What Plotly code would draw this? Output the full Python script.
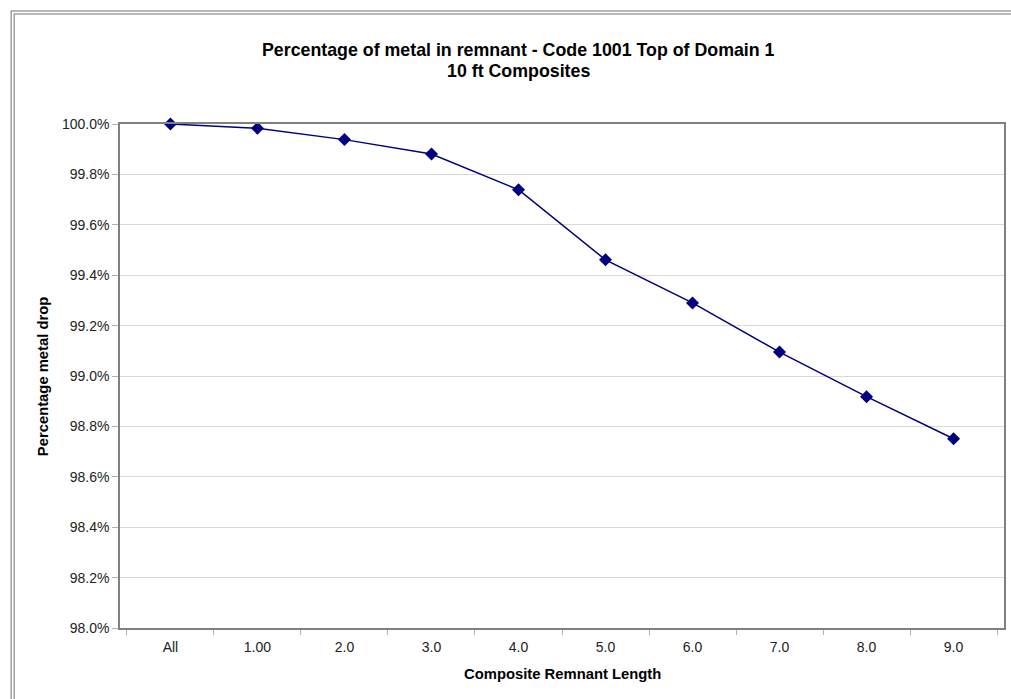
import plotly.graph_objects as go

categories = ["All", "1.00", "2.0", "3.0", "4.0", "5.0", "6.0", "7.0", "8.0", "9.0"]
values = [100.0, 99.983, 99.938, 99.881, 99.739, 99.461, 99.290, 99.095, 98.918, 98.751]
y_ticks = [98.0, 98.2, 98.4, 98.6, 98.8, 99.0, 99.2, 99.4, 99.6, 99.8, 100.0]
y_ticktext = [f"{v:.1f}%" for v in y_ticks]
title_lines = ["Percentage of metal in remnant - Code 1001 Top of Domain 1", "10 ft Composites"]

W, H = 1011, 699
L, R, T, B = 120, 1006, 124, 628

def px(x):
    return (x - L) / (R - L)

def py(y):
    return (B - y) / (B - T)

fig = go.Figure()
fig.add_trace(go.Scatter(
    x=categories, y=values, mode="lines+markers",
    line=dict(color="#000080", width=1.5),
    marker=dict(symbol="diamond", size=10, color="#000080"),
    showlegend=False, cliponaxis=False,
))

font = "Liberation Sans, Arial, sans-serif"
fig.update_layout(
    width=W, height=H,
    margin=dict(l=L, r=W - R, t=T, b=H - B),
    paper_bgcolor="white", plot_bgcolor="white",
    font=dict(family=font, color="#222222"),
    xaxis=dict(
        type="category", tickson="boundaries",
        showgrid=False, showline=True, linecolor="#808080", linewidth=1.5, mirror=True,
        ticks="outside", ticklen=5, tickcolor="#b0b0b0", tickwidth=1,
        tickfont=dict(size=14, color="#222222"), zeroline=False,
        ticklabelstandoff=5,
    ),
    yaxis=dict(
        range=[98.0, 100.0], tickvals=y_ticks, ticktext=y_ticktext,
        showgrid=True, gridcolor="#d9d9d9", gridwidth=1,
        showline=True, linecolor="#808080", linewidth=1.5, mirror=True,
        ticks="outside", ticklen=6, tickcolor="#b0b0b0", tickwidth=1,
        tickfont=dict(size=14, color="#222222"), zeroline=False,
    ),
    annotations=[
        dict(text=f"<b>{title_lines[0]}</b>",
             x=px(519), y=py(50), xref="paper", yref="paper", showarrow=False,
             xanchor="center", yanchor="middle", font=dict(size=17.8, color="#000000", family=font)),
        dict(text=f"<b>{title_lines[1]}</b>",
             x=px(519), y=py(71), xref="paper", yref="paper", showarrow=False,
             xanchor="center", yanchor="middle", font=dict(size=17.8, color="#000000", family=font)),
        dict(text="<b>Composite Remnant Length</b>", x=px(563), y=py(674), xref="paper", yref="paper",
             showarrow=False, xanchor="center", yanchor="middle",
             font=dict(size=14.8, color="#000000", family=font)),
        dict(text="<b>Percentage metal drop</b>", x=px(43), y=py(376), xref="paper", yref="paper",
             showarrow=False, xanchor="center", yanchor="middle", textangle=-90,
             font=dict(size=14.8, color="#000000", family=font)),
    ],
    shapes=[
        dict(type="rect", xref="paper", yref="paper", x0=px(11), x1=px(1040), y0=py(11), y1=py(730),
             line=dict(color="#a0a0a0", width=1.5)),
        dict(type="rect", xref="paper", yref="paper", x0=px(14), x1=px(1040), y0=py(14), y1=py(730),
             line=dict(color="#a0a0a0", width=1.5)),
    ],
)

fig.write_html("out.html")
